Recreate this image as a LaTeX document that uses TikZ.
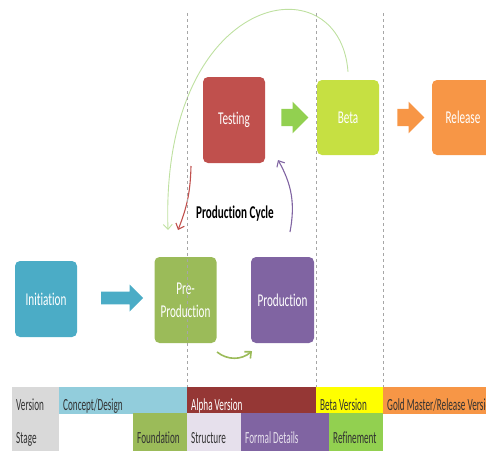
\documentclass[tikz,border=0pt]{standalone}
\usepackage{fontspec}
\setmainfont[FakeStretch=0.62,Ligatures=NoCommon]{Carlito}
\newfontfamily\cellfont[FakeStretch=0.54,Ligatures=NoCommon]{Carlito}
\definecolor{InitTeal}{RGB}{75,172,198}
\definecolor{PreGreen}{RGB}{155,187,89}
\definecolor{ProdPurple}{RGB}{128,100,162}
\definecolor{TestRed}{RGB}{192,80,77}
\definecolor{BetaLime}{RGB}{198,224,66}
\definecolor{RelOrange}{RGB}{247,150,70}
\definecolor{ArrowGreen}{RGB}{146,208,80}
\definecolor{LoopGreen}{RGB}{190,224,160}
\definecolor{CellGray}{RGB}{217,217,217}
\definecolor{CellBlue}{RGB}{146,205,220}
\definecolor{CellMaroon}{RGB}{149,55,53}
\definecolor{CellYellow}{RGB}{255,255,0}
\definecolor{CellLavender}{RGB}{230,224,236}
\definecolor{CellText}{RGB}{50,50,50}
\usetikzlibrary{arrows.meta,positioning,calc,shapes.arrows}

\begin{document}
\begin{tikzpicture}[x=1pt,y=-1pt,
  phase/.style={rounded corners=5pt,text=white,align=center,inner sep=0pt,
    minimum width=62,font=\fontsize{18}{23}\selectfont},
  flow/.style={single arrow,minimum height=#1,inner sep=0pt},
  cycle/.style={-{Straight Barb[length=5pt,width=9pt]},line width=1.1pt},
  guide/.style={gray!70,dashed,line width=0.5pt},
  cell/.style={anchor=north west,align=left,inner xsep=4pt,inner ysep=4pt,
    text width=#1,text=CellText,font=\cellfont\fontsize{17}{18}\selectfont,
    execute at begin node={\spaceskip=0pt\xspaceskip=0pt}},
  toprow/.style={text height=19,text depth=0},
  lowrow/.style={text height=26,text depth=13}]
\useasboundingbox (0,0) rectangle (486,450);

% phases
\node[phase,fill=InitTeal,minimum height=76] (init) at (46,299) {Initiation};
\node[phase,fill=PreGreen,minimum height=86] (pre) at (185.5,300) {Pre-\\Production};
\node[phase,fill=ProdPurple,minimum height=86,minimum width=63] (prod) at (282.5,300) {Production};
\node[phase,fill=TestRed,minimum height=86] (test) at (234,120) {Testing};
\node[phase,fill=BetaLime,minimum height=75] (beta) at (348,117.5) {Beta};
\node[phase,fill=RelOrange,minimum height=75] (rel) at (463,117.5) {Release};

% block arrows
\node[flow=42,fill=InitTeal,minimum width=27,inner ysep=6] (go1) at (119,298) {};
\node[flow=27,fill=ArrowGreen,minimum width=29,inner ysep=8.5] (go2) at (290.5,117.5) {};
\node[flow=27,fill=RelOrange,minimum width=29,inner ysep=8.5] (go3) at (406.5,117.5) {};

% production cycle
\coordinate (loopend) at (168,230);
\coordinate (redend) at (178,230);
\coordinate (redstart) at (191,166);
\coordinate (purpstart) at (290,232);
\coordinate (purpend) at (278,160);
\coordinate (smallstart) at (217,352);
\coordinate (smallend) at (252,351);
\draw[cycle,LoopGreen,line width=0.9pt] ([yshift=8pt]beta.north) .. controls (340,-40) and (160,-10) .. (loopend);
\draw[cycle,TestRed] (redstart) to[bend left=10] (redend);
\draw[cycle,ProdPurple] (purpstart) to[bend right=20] (purpend);
\draw[cycle,PreGreen,line width=1.6pt] (smallstart) to[bend right=40] (smallend);
\node[font=\bfseries\fontsize{18}{20}\selectfont] (cyc) at (235,214) {Production Cycle};

% guides
\foreach \gx in {187,316,383}
  \draw[guide] (\gx,13) -- (\gx,387);

% table
\node[cell=39,toprow,fill=CellGray] (ver) at (12,387) {Version};
\node[cell=120,toprow,fill=CellBlue] (concept) at (59,387) {Concept/Design};
\node[cell=121,toprow,fill=CellMaroon,text=white] (alpha) at (187,387) {Alpha Version};
\node[cell=59,toprow,fill=CellYellow] (betav) at (316,387) {Beta Version};
\node[cell=132,toprow,fill=RelOrange] (gold) at (383,387) {Gold Master/Release Version};
\node[cell=39,lowrow,fill=CellGray] (stage) at (12,413) {Stage};
\node[cell=46,lowrow,fill=PreGreen] (found) at (133,413) {Foundation};
\node[cell=46,lowrow,fill=CellLavender] (struct) at (187,413) {Structure};
\node[cell=80,lowrow,fill=ProdPurple,text=CellLavender] (formal) at (241,413) {Formal Details};
\node[cell=46,lowrow,fill=ArrowGreen] (refine) at (329,413) {Refinement};
\end{tikzpicture}
\end{document}
